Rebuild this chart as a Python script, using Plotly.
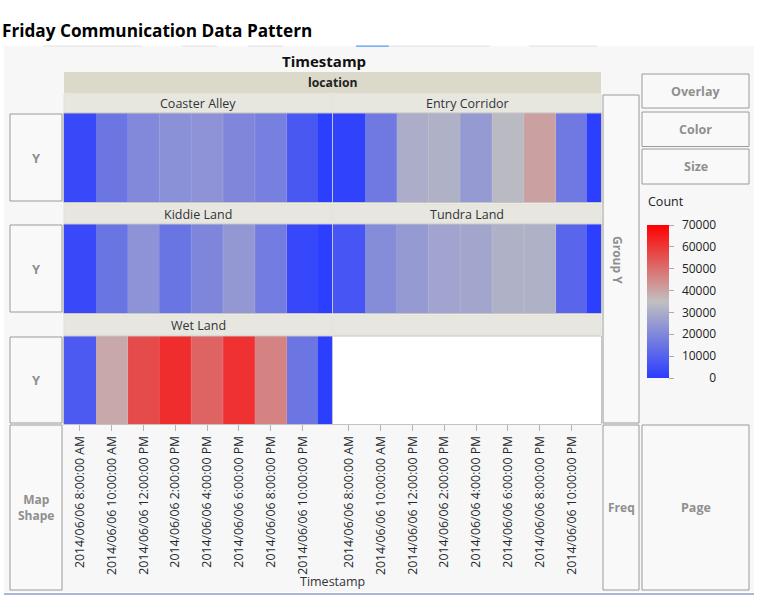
import plotly.graph_objects as go

W, H = 757, 599

# ---- data ----
bin_edges = ["2014-06-06 07:00", "2014-06-06 09:00", "2014-06-06 11:00", "2014-06-06 13:00",
             "2014-06-06 15:00", "2014-06-06 17:00", "2014-06-06 19:00", "2014-06-06 21:00",
             "2014-06-06 23:00", "2014-06-06 23:51"]
tick_vals = ["2014-06-06 08:00", "2014-06-06 10:00", "2014-06-06 12:00", "2014-06-06 14:00",
             "2014-06-06 16:00", "2014-06-06 18:00", "2014-06-06 20:00", "2014-06-06 22:00"]
tick_text = ["2014/06/06 8:00:00 AM", "2014/06/06 10:00:00 AM", "2014/06/06 12:00:00 PM",
             "2014/06/06 2:00:00 PM", "2014/06/06 4:00:00 PM", "2014/06/06 6:00:00 PM",
             "2014/06/06 8:00:00 PM", "2014/06/06 10:00:00 PM"]
coaster_alley = [3500, 15400, 20500, 22600, 23000, 20000, 18000, 7500, 500]
entry_corridor = [1500, 16300, 30000, 31000, 25000, 33500, 40800, 16300, 500]
kiddie_land = [3500, 15000, 23000, 15000, 19500, 24500, 17000, 3000, 500]
tundra_land = [6500, 21500, 25000, 27500, 28000, 31000, 31000, 11000, 500]
wet_land = [8000, 39400, 56300, 61800, 51800, 61000, 46300, 15500, 500]
color_ticks = [0, 10000, 20000, 30000, 40000, 50000, 60000, 70000]
color_tick_text = ["\u2002\u2007\u2007\u2007\u20070", "\u200210000", "\u200220000", "\u200230000",
                   "\u200240000", "\u200250000", "\u200260000", "\u200270000"]
title_text = "Friday Communication Data Pattern"

UI = "Open Sans"
GREY = "#8f8f8f"

def px(x): return x / W
def py(y): return 1 - y / H

scale = [[0, "#2a3cff"], [0.5, "#c0c0c0"], [1, "#ff0000"]]

# panels: name, values, x-axis, y-axis, top/bottom in pixels
C1, C2 = (64, 332), (333, 601)
R1, R2, R3 = (113, 202), (224, 313), (336, 424)
panels = [
    ("Coaster Alley", coaster_alley, "x", "y", R1),
    ("Entry Corridor", entry_corridor, "x2", "y2", R1),
    ("Kiddie Land", kiddie_land, "x", "y3", R2),
    ("Tundra Land", tundra_land, "x2", "y4", R2),
    ("Wet Land", wet_land, "x", "y5", R3),
]

fig = go.Figure()
for name, vals, xa, ya, row in panels:
    fig.add_trace(go.Heatmap(x=bin_edges, y=[0, 1], z=[vals], xaxis=xa, yaxis=ya, name=name,
                             coloraxis="coloraxis", hoverongaps=False))

shapes, ann = [], []

def rect(x0, y0, x1, y1, fill=None, line=None, lw=1, layer="below"):
    shapes.append(dict(type="rect", xref="paper", yref="paper", x0=px(x0), x1=px(x1), y0=py(y0), y1=py(y1),
                       fillcolor=fill or "rgba(0,0,0,0)", line=dict(color=line or "rgba(0,0,0,0)", width=lw if line else 0),
                       layer=layer))

def text(x, y, s, size=12, color="#222", bold=False, family=UI, anchor="center", angle=0):
    ann.append(dict(xref="paper", yref="paper", x=px(x), y=py(y), text=f"<b>{s}</b>" if bold else s,
                    showarrow=False, xanchor=anchor, yanchor="middle", textangle=angle,
                    font=dict(size=size, color=color, family=family)))

# panel background and frame pieces
rect(4, 46, 754, 592, fill="#f7f7f7")
rect(4, 593, 754, 595, fill="#a9b7d8")
for a, b, c in [(43, 142, "#e6e6e6"), (182, 217, "#e6e6e6"), (248, 283, "#e6e6e6"),
                (356, 389, "#4f9df0"), (390, 490, "#e6e6e6"), (529, 597, "#e6e6e6")]:
    rect(a, 45.5, b, 46.8, fill=c)

# title bands
rect(64, 72, 601, 93.5, fill="#dbd9ca")
for s, (a, b), (t, u), dy in [("Coaster Alley", C1, (94, 113), 0), ("Entry Corridor", C2, (94, 113), 0),
                              ("Kiddie Land", C1, (204, 223), 0.7), ("Tundra Land", C2, (204, 223), 0.7),
                              ("Wet Land", C1, (315, 335), 0), ("", C2, (315, 335), 0)]:
    rect(a, t, b, u, fill="#e8e7df", line="#e2e1d8")
    if s:
        text((a + b) / 2, (t + u) / 2 + dy, s, size=12.5, color="#30343a")
rect(333, 336, 601, 424, fill="#ffffff")

# grey role boxes
boxes = [(10, 114, 62, 201, "Y", 13), (10, 225, 62, 312, "Y", 13), (10, 337, 62, 423, "Y", 13),
         (10, 425, 62, 590, "Map<br>Shape", 12), (603, 95, 639, 423, "", 12), (603, 425, 639, 590, "Freq", 12),
         (642, 425, 749, 590, "Page", 12.5), (642, 74, 749, 108, "Overlay", 12.5),
         (642, 112, 749, 146.5, "Color", 12.5), (642, 149, 749, 184, "Size", 12.5)]
for x0, y0, x1, y1, s, sz in boxes:
    rect(x0, y0, x1, y1, fill="#f9f9f9", line="#9a9a9a", lw=1)
    if s:
        text((x0 + x1) / 2, (y0 + y1) / 2, s, size=sz, color=GREY, bold=True)
text(618, 260, "Group Y", size=12, color=GREY, bold=True, angle=90)

# faint bin dividers, drawn on each panel's own axes
for name, vals, xa, ya, row in panels:
    for e in bin_edges[2:8]:
        shapes.append(dict(type="line", xref=xa, yref=ya, x0=e, x1=e, y0=0, y1=1, layer="above",
                           line=dict(color="rgba(255,255,255,0.14)", width=1)))

# plot frames
for (a, b) in (C1, C2):
    for (t, u) in (R1, R2, R3):
        rect(a - 0.5, t, b + 0.5, u + 0.5, line="#c4c4c4", lw=1, layer="above")

text(324, 60.5, "Timestamp", size=15, color="#111", bold=True)
text(332, 82.5, "location", size=12.2, color="#222", bold=True)
text(332, 581, "Timestamp", size=12.5, color="#30343a")
text(646, 201, "Count", size=12.5, color="#222", anchor="left")
text(0, 30, title_text, size=17.2, color="#000", bold=True, anchor="left")

def xaxis(dom, **kw):
    return dict(domain=[px(dom[0]), px(dom[1])], type="date", range=[bin_edges[0], bin_edges[-1]],
                tickmode="array", tickvals=tick_vals, ticktext=tick_text, tickangle=-90,
                ticks="outside", ticklen=6, tickcolor="#b5b5b5", showgrid=False, zeroline=False, showline=False,
                tickfont=dict(family=UI, size=12.3, color="#26292e"), **kw)

def yaxis(row, anchor):
    return dict(domain=[py(row[1]), py(row[0])], range=[0, 1], anchor=anchor, showticklabels=False,
                ticks="", showgrid=False, zeroline=False, showline=False)

fig.update_layout(
    width=W, height=H, margin=dict(l=0, r=0, t=0, b=0), autosize=False,
    paper_bgcolor="#ffffff", plot_bgcolor="rgba(0,0,0,0)", showlegend=False, font=dict(family=UI),
    xaxis=xaxis(C1, anchor="y5"),
    xaxis2=xaxis(C2, anchor="free", position=py(R3[1])),
    yaxis=yaxis(R1, "x"), yaxis2=yaxis(R1, "x2"), yaxis3=yaxis(R2, "x"), yaxis4=yaxis(R2, "x2"), yaxis5=yaxis(R3, "x"),
    coloraxis=dict(cmin=0, cmax=70000, colorscale=scale, colorbar=dict(
        x=px(647), xanchor="left", y=py(378), yanchor="bottom", lenmode="pixels", len=153,
        thicknessmode="pixels", thickness=22, outlinewidth=0, xpad=0, ypad=0,
        tickmode="array", tickvals=color_ticks, ticktext=color_tick_text, ticks="outside", ticklen=5,
        tickcolor="#c2a0a8", tickfont=dict(family=UI, size=12, color="#222"))),
    shapes=shapes, annotations=ann,
)

fig.write_html("out.html", config=dict(displayModeBar=False), post_script="document.body.style.margin='0';")
